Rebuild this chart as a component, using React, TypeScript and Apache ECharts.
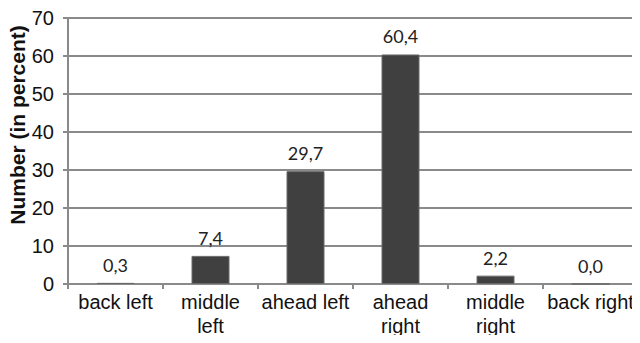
import React, { useEffect, useRef } from "react";
import * as echarts from "echarts";

const categories = ["back left", "middle\nleft", "ahead left", "ahead\nright", "middle\nright", "back right"];
const values = [0.3, 7.4, 29.7, 60.4, 2.2, 0.0];
const yTicks = { min: 0, max: 70, interval: 10 };
const yTitle = "Number (in percent)";

export default function App() {
  const ref = useRef<HTMLDivElement>(null);
  useEffect(() => {
    if (!ref.current) return;
    const chart = echarts.init(ref.current, undefined, { renderer: "svg" });
    chart.setOption({
      animation: false,
      grid: { left: 68, right: 2, top: 18, bottom: 59 },
      graphic: [
        {
          type: "text",
          x: 17,
          y: 125,
          rotation: Math.PI / 2,
          style: {
            text: yTitle,
            fill: "#111",
            fontFamily: "Liberation Sans, Arial, sans-serif",
            fontSize: 21,
            fontWeight: "bold",
            align: "center",
            verticalAlign: "middle",
          },
        },
      ],
      xAxis: {
        type: "category",
        data: categories,
        boundaryGap: true,
        axisLine: { lineStyle: { color: "#8a8a8a", width: 2 } },
        axisTick: { show: true, length: 5, lineStyle: { color: "#8a8a8a", width: 2 } },
        axisLabel: {
          color: "#111",
          fontFamily: "Liberation Sans, Arial, sans-serif",
          fontSize: 20,
          lineHeight: 24,
          margin: 6,
          interval: 0,
        },
      },
      yAxis: {
        type: "value",
        min: yTicks.min,
        max: yTicks.max,
        interval: yTicks.interval,
        axisLine: { show: true, lineStyle: { color: "#8a8a8a", width: 2 } },
        axisTick: { show: true, length: 5, lineStyle: { color: "#8a8a8a", width: 2 } },
        splitLine: { lineStyle: { color: "#8a8a8a", width: 2 } },
        axisLabel: {
          color: "#111",
          fontFamily: "Liberation Sans, Arial, sans-serif",
          fontSize: 20,
          margin: 14,
        },
      },
      series: [
        {
          type: "bar",
          data: values,
          barWidth: "40%",
          itemStyle: { color: "#404040", borderColor: "#6a6a6a", borderWidth: 1 },
          label: {
            show: true,
            position: "top",
            distance: 9,
            color: "#222",
            fontFamily: "Lato, sans-serif",
            fontSize: 18,
            formatter: (p: any) => Number(p.value).toFixed(1).replace(".", ","),
          },
        },
      ],
    });
    return () => chart.dispose();
  }, []);
  return <div ref={ref} style={{ width: 640, height: 343, margin: -8 }} />;
}
